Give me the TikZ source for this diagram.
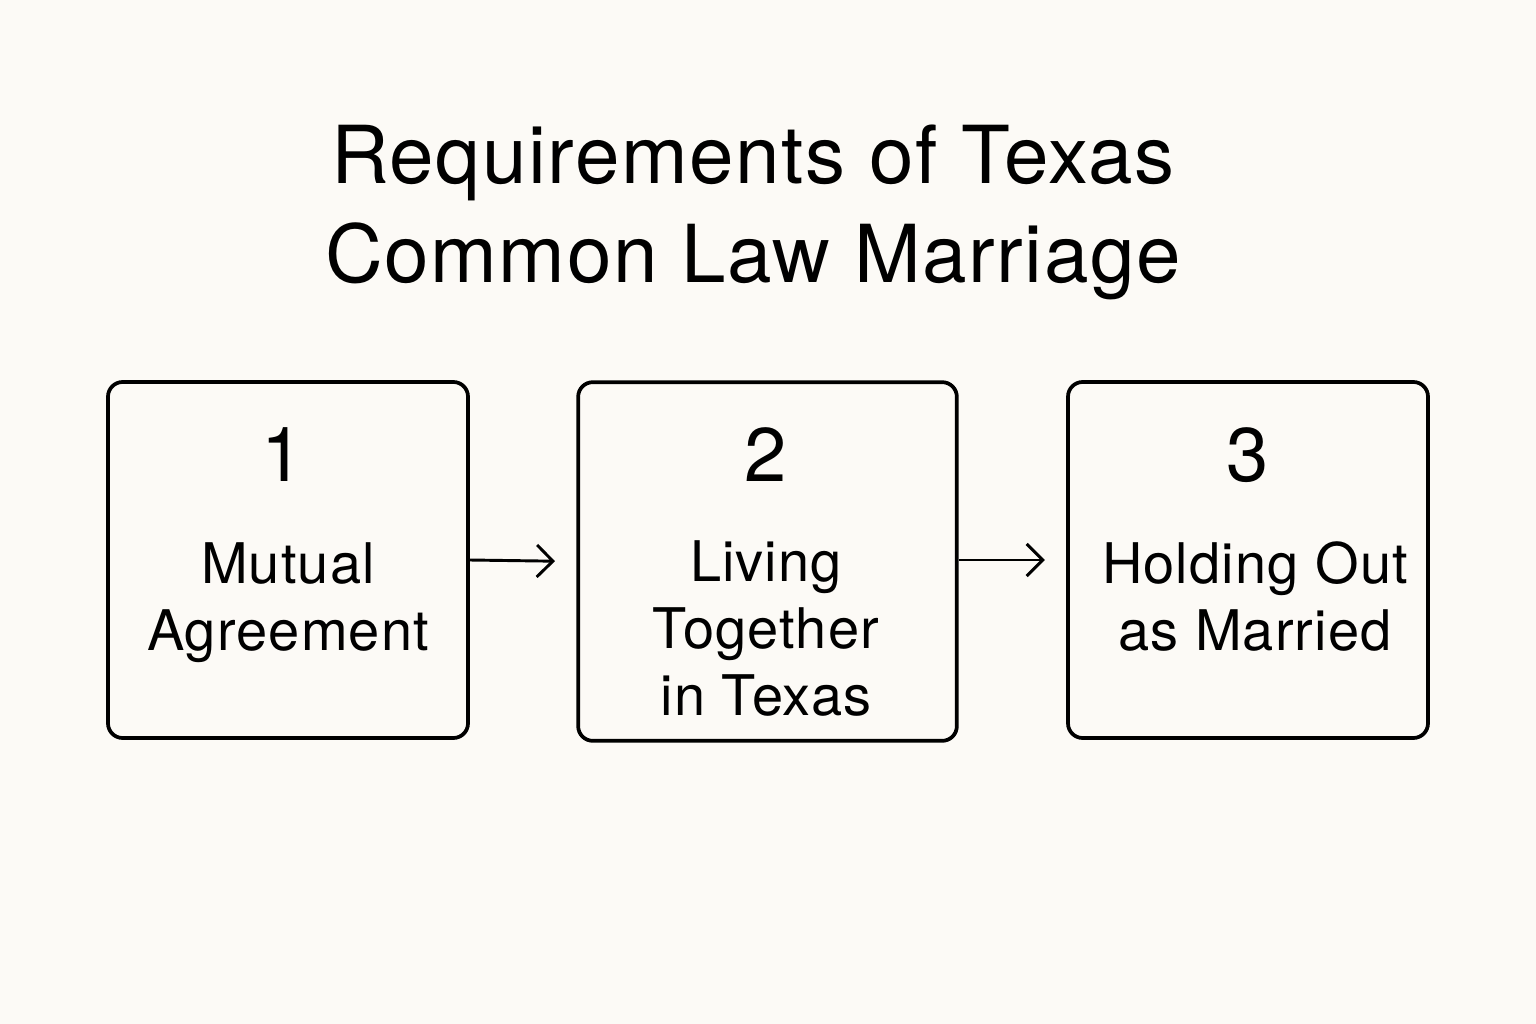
\documentclass[tikz,border=0pt]{standalone}
\usepackage{fontspec}
\setmainfont{TeX Gyre Heros}[LetterSpace=2]
\usetikzlibrary{arrows.meta,positioning}
\definecolor{paper}{RGB}{252,250,246}
\tikzset{every picture/.style={line width=0.75pt}}
\tikzset{stepbox/.style={draw,rounded corners=11pt,line width=2.8pt,minimum width=270pt,minimum height=267pt,inner sep=0pt},
  stepnum/.style={inner sep=0pt,font=\fontsize{57}{57}\selectfont},
  steptext/.style={inner sep=0pt,align=center,font=\fontsize{42}{50}\selectfont},
  steparrow/.style={line width=2.2pt,shorten >=16pt,-{Straight Barb[length=12pt,width=24pt,line width=2.2pt]}}}
\begin{document}
\begin{tikzpicture}[x=0.75pt,y=0.75pt,yscale=-1,xscale=1]
\fill [paper] (0,0) rectangle (1536,1024);
\useasboundingbox (0,0) rectangle (1536,1024);

% Title
\draw (753,282) node [anchor=base,align=center,inner sep=0pt,font=\fontsize{60}{74}\selectfont] (title) {Requirements of Texas\\Common Law Marriage};

% Boxes
\node [stepbox] (box1) at (288,560) {};
\node [stepbox,minimum width=284pt,minimum height=269pt] (box2) at (767.5,561.5) {};
\node [stepbox] (box3) at (1248,560) {};

% Numbers
\node [stepnum] (num1) at (283,455) {1};
\node [stepnum] (num2) at (766,455) {2};
\node [stepnum] (num3) at (1248,455) {3};

% Text Node (base = last line)
\node [steptext,anchor=base] (lab1) at (288,650) {Mutual\\Agreement};
\node [steptext,anchor=base] (lab2) at (766,715) {Living\\Together\\in Texas};
\node [steptext,anchor=base] (lab3) at (1255,650) {Holding Out\\as Married};

% Arrows
\draw [steparrow] (box1.east) -- (box2.west);
\draw [steparrow] (box2.east |- box3.west) -- (box3.west);

\end{tikzpicture}
\end{document}
